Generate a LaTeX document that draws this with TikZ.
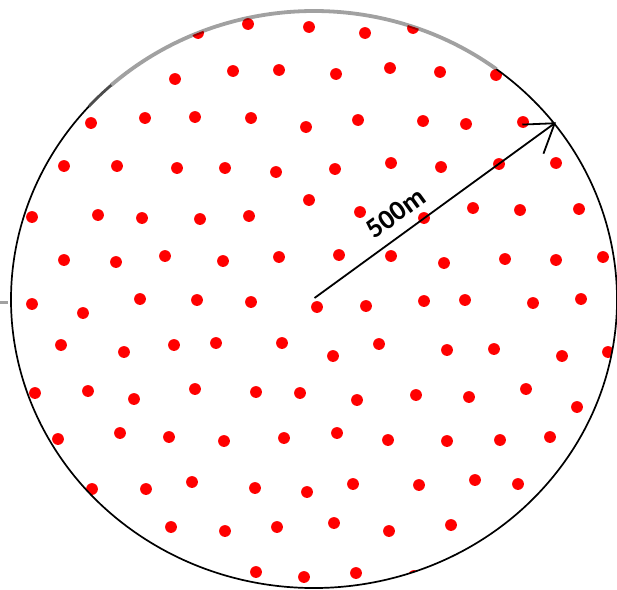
\documentclass[tikz,border=0pt]{standalone}
\usepackage{fontspec}
\setmainfont{Carlito}
\usetikzlibrary{arrows.meta}
\begin{document}
\begin{tikzpicture}[x=1pt,y=-1pt,
  dotstyle/.style={fill=red, draw=none},
  rim/.style={line width=1.7pt, black},
  rimgray/.style={line width=3.8pt, black, opacity=0.37},
  radiusarrow/.style={line width=1.8pt, black, -{Straight Barb[length=27pt,width=36pt]}},
  lblstyle/.style={font=\bfseries\fontsize{28}{28}\selectfont, inner sep=0pt}]
\useasboundingbox (0,0) rectangle (617,589);
\coordinate (c) at (314,299.5);
\begin{scope}
  \clip (c) ellipse [x radius=303, y radius=288.5];
  \foreach \px/\py in {
    198/33,248/24,309/27,365/33,413/28,
    175/79,233/71,279/70,336/74,390/68,440/72,496/75,
    91/123,145/118,195/117,251/118,306/127,358/120,423/121,466/124,523/122,
    64/166,117/166,177/168,225/168,276/172,335/169,391/163,441/167,499/164,556/163,
    32/217,98/215,142/218,200/219,249/216,309/200,360/212,424/218,473/208,520/210,579/209,
    64/260,116/262,165/256,223/261,279/257,339/255,391/256,444/263,505/259,556/260,603/257,
    32/304,83/313,140/299,197/300,251/302,317/307,366/306,424/301,465/300,533/303,581/299,
    61/345,124/352,174/345,216/343,282/343,333/356,379/344,447/350,494/349,562/356,608/352,
    35/393,88/391,134/399,195/389,256/392,300/393,357/400,416/395,469/397,526/389,577/407,
    58/439,120/433,169/437,224/441,284/438,337/433,388/440,447/441,500/440,550/437,
    92/489,146/489,192/482,255/488,307/492,353/484,419/485,475/480,518/484,
    171/527,225/531,277/527,334/523,389/531,451/525,
    256/572,304/577,356/573,414/576}
    \fill[dotstyle] (\px,\py) circle[radius=5.9];
\end{scope}
% black outline (lower and side parts)
\draw[rim] (c) ++(-53:303 and 288.5) arc[start angle=-53, end angle=222, x radius=303, y radius=288.5];
% transition segment on the upper left
\draw[line width=2.8pt, black, opacity=0.7] (c) ++(-138:303 and 288.5) arc[start angle=-138, end angle=-132, x radius=303, y radius=288.5];
% gray upper part
\draw[rimgray] (c) ++(-132:303 and 288.5) arc[start angle=-132, end angle=-53, x radius=303, y radius=288.5];
% small gray tick at left edge
\draw[line width=3pt, black, opacity=0.37] (0,302.5) -- (8,302.5);
% radius arrow
\coordinate (ctr) at (314.5,298);
\coordinate (tip) at (556,122.3);
\draw[radiusarrow] (ctr) -- (tip);
\node[lblstyle, rotate=36] (lbl) at (396,213) {500m};
\end{tikzpicture}
\end{document}
